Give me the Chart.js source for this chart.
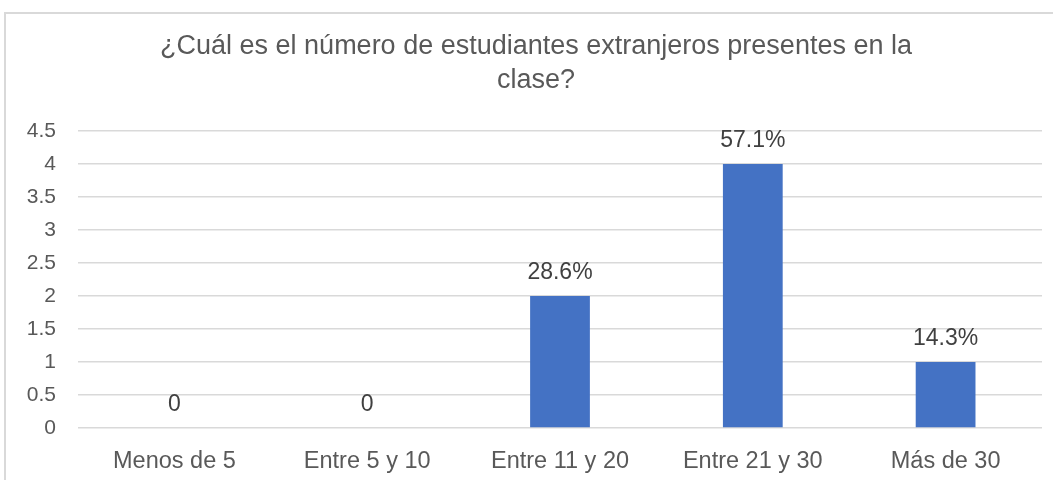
<!DOCTYPE html>
<html>
<head>
<meta charset="utf-8">
<script src="https://cdn.jsdelivr.net/npm/chart.js@4/dist/chart.umd.min.js"></script>
<style>
  html, body { margin: 0; padding: 0; background: #fff; overflow: hidden; }
  #frame {
    position: absolute; left: 4px; top: 12px;
    width: 1070px; height: 480px;
    border: 2px solid #d9d9d9; box-sizing: border-box;
  }
  #wrap { position: absolute; left: 6px; top: 14px; width: 1060px; height: 466px; }
</style>
</head>
<body>
<div id="frame"></div>
<div id="wrap"><canvas id="chart"></canvas></div>
<script>
const categories = ['Menos de 5', 'Entre 5 y 10', 'Entre 11 y 20', 'Entre 21 y 30', 'Más de 30'];
const counts = [0, 0, 2, 4, 1];
const percentLabels = ['0', '0', '28.6%', '57.1%', '14.3%'];
const titleLines = ['¿Cuál es el número de estudiantes extranjeros presentes en la', 'clase?'];

const FONT = '"Liberation Sans", Arial, sans-serif';

// title centred on the whole canvas (the built-in one centres on width minus padding)
const canvasTitle = {
  id: 'canvasTitle',
  afterDraw(chart) {
    const ctx = chart.ctx;
    ctx.save();
    ctx.font = `27px ${FONT}`;
    ctx.fillStyle = '#595959';
    ctx.textAlign = 'center';
    ctx.textBaseline = 'middle';
    titleLines.forEach((line, i) => {
      ctx.fillText(line, chart.width / 2, 33 + i * 34);
    });
    ctx.restore();
  },
};

// draws the value text above each bar, like excel data labels
const barLabels = {
  id: 'barLabels',
  afterDatasetsDraw(chart) {
    const ctx = chart.ctx;
    const meta = chart.getDatasetMeta(0);
    ctx.save();
    ctx.font = `23px ${FONT}`;
    ctx.fillStyle = '#404040';
    ctx.textAlign = 'center';
    ctx.textBaseline = 'middle';
    meta.data.forEach((bar, i) => {
      ctx.fillText(percentLabels[i], bar.x, bar.y - 23);
    });
    ctx.restore();
  },
};

new Chart(document.getElementById('chart'), {
  type: 'bar',
  data: {
    labels: categories,
    datasets: [
      {
        data: counts,
        backgroundColor: '#4472c4',
        categoryPercentage: 1,
        barPercentage: 0.31,
      },
    ],
  },
  options: {
    responsive: true,
    maintainAspectRatio: false,
    animation: false,
    layout: { padding: { left: 0, right: 24, top: 117, bottom: 0 } },
    plugins: {
      legend: { display: false },
      tooltip: { enabled: false },
      title: { display: false },
    },
    scales: {
      x: {
        grid: { display: false },
        border: { display: false },
        ticks: { color: '#595959', font: { family: FONT, size: 23.5 }, padding: 11, maxRotation: 0 },
        afterFit: (scale) => { scale.height = 52; },
      },
      y: {
        min: 0,
        max: 4.5,
        grid: { color: '#d9d9d9', lineWidth: 1.5, drawTicks: false },
        border: { display: false },
        ticks: {
          stepSize: 0.5,
          color: '#595959',
          font: { family: FONT, size: 21 },
          padding: 22,
          callback: (value) => String(value),
        },
        afterFit: (scale) => { scale.width = 72; },
      },
    },
  },
  plugins: [barLabels, canvasTitle],
});
</script>
</body>
</html>
